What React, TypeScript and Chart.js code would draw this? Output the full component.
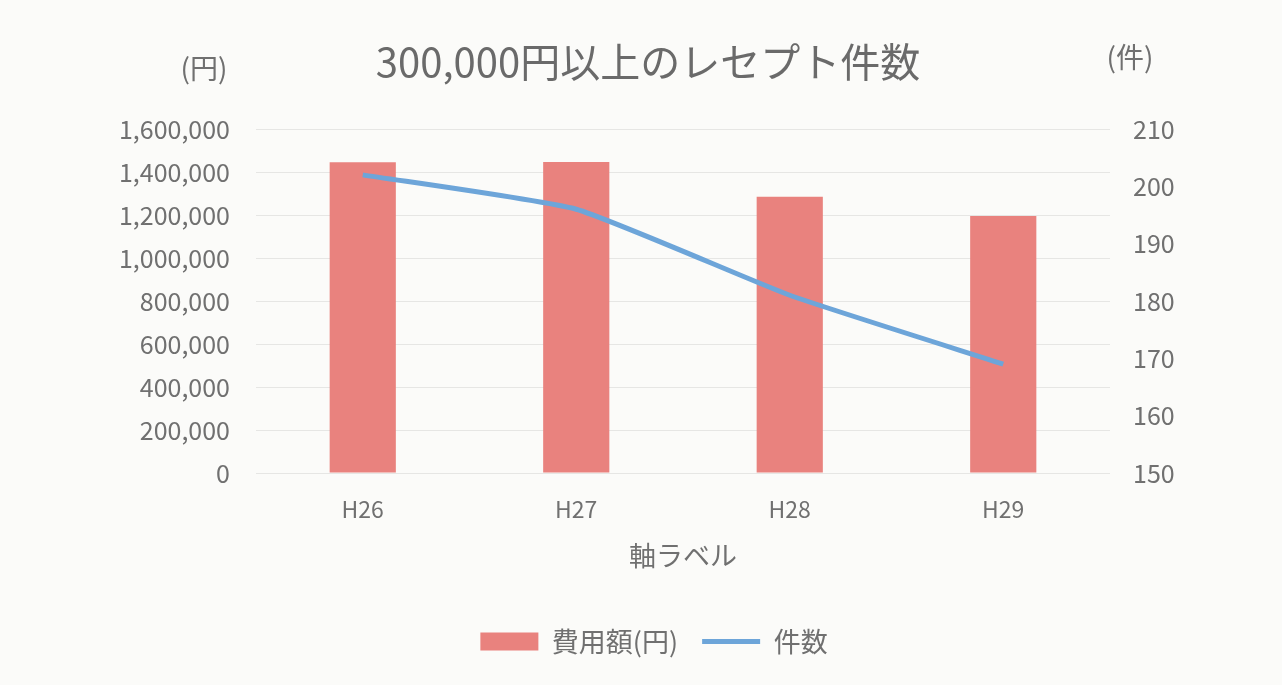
import React, { useEffect, useRef } from "react";
import { Chart, registerables } from "chart.js";

Chart.register(...registerables);

const categories = ["H26", "H27", "H28", "H29"];
const costValues = [1445000, 1447000, 1285000, 1195000];
const countValues = [202, 196, 181, 169];
const leftTicks = [0, 200000, 400000, 600000, 800000, 1000000, 1200000, 1400000, 1600000];
const rightTicks = [150, 160, 170, 180, 190, 200, 210];

const FONT = '"Noto Sans CJK JP", "Noto Sans", sans-serif';
const TEXT = "#707070";

const decorPlugin = {
  id: "decor",
  beforeDraw(chart: any) {
    const ctx = chart.ctx;
    ctx.save();
    ctx.fillStyle = "#fbfbf9";
    ctx.fillRect(0, 0, chart.width, chart.height);
    ctx.restore();
  },
  afterDraw(chart: any) {
    const ctx = chart.ctx;
    ctx.save();
    ctx.fillStyle = "#6a6a6a";
    ctx.font = `40px ${FONT}`;
    ctx.textAlign = "center";
    ctx.textBaseline = "middle";
    ctx.fillText("300,000円以上のレセプト件数", 648, 62);
    ctx.fillStyle = TEXT;
    ctx.font = `28px ${FONT}`;
    ctx.fillText("(円)", 204, 68);
    ctx.fillText("(件)", 1130, 57);
    ctx.restore();
  },
};

export default function App() {
  const ref = useRef<HTMLCanvasElement | null>(null);
  useEffect(() => {
    if (!ref.current) return;
    const chart = new Chart(ref.current, {
      type: "bar",
      data: {
        labels: categories,
        datasets: [
          {
            type: "bar",
            label: "費用額(円)",
            data: costValues,
            backgroundColor: "#E9827E",
            borderWidth: 0,
            yAxisID: "y",
            barPercentage: 0.31,
            categoryPercentage: 1,
            pointStyle: "rect",
            order: 2,
          } as any,
          {
            type: "line",
            label: "件数",
            data: countValues,
            borderColor: "#6DA5D9",
            backgroundColor: "#6DA5D9",
            borderWidth: 5,
            pointRadius: 0,
            tension: 0.15,
            yAxisID: "y1",
            pointStyle: "line",
            order: 1,
          } as any,
        ],
      },
      options: {
        animation: false,
        responsive: false,
        maintainAspectRatio: false,
        layout: { padding: { top: 129, left: 26, right: 0, bottom: 20 } },
        plugins: {
          title: { display: false },
          tooltip: { enabled: false },
          legend: {
            position: "bottom",
            labels: {
              usePointStyle: true,
              pointStyleWidth: 58,
              boxHeight: 18,
              color: TEXT,
              font: { family: FONT, size: 27 },
              padding: 24,
              sort: (a: any, b: any) => a.datasetIndex - b.datasetIndex,
            },
          },
        },
        scales: {
          x: {
            grid: { display: false },
            border: { display: false },
            ticks: { color: TEXT, font: { family: FONT, size: 23 }, padding: 14 },
            title: {
              display: true,
              text: "軸ラベル",
              color: TEXT,
              font: { family: FONT, size: 27 },
              padding: { top: 0, bottom: 32 },
            },
            afterFit(scale: any) {
              scale.height = 131;
            },
          },
          y: {
            position: "left",
            min: 0,
            max: 1600000,
            afterBuildTicks(scale: any) {
              scale.ticks = leftTicks.map((v) => ({ value: v }));
            },
            grid: { color: "#e6e6e4", drawTicks: false, lineWidth: 1 },
            border: { display: false },
            ticks: {
              color: TEXT,
              font: { family: FONT, size: 25 },
              padding: 26,
              callback: (v: any) => Number(v).toLocaleString("en-US"),
            },
            afterFit(scale: any) {
              scale.width = 230;
            },
          },
          y1: {
            position: "right",
            min: 150,
            max: 210,
            afterBuildTicks(scale: any) {
              scale.ticks = rightTicks.map((v) => ({ value: v }));
            },
            grid: { display: false, drawTicks: false },
            border: { display: false },
            ticks: { color: TEXT, font: { family: FONT, size: 25 }, padding: 23 },
            afterFit(scale: any) {
              scale.width = 1282 - 1110;
            },
          },
        },
      },
      plugins: [decorPlugin],
    } as any);
    return () => chart.destroy();
  }, []);
  return (
    <div style={{ position: "absolute", left: 0, top: 0, width: 1282, height: 685 }}>
      <canvas ref={ref} width={1282} height={685} style={{ display: "block" }} />
    </div>
  );
}
